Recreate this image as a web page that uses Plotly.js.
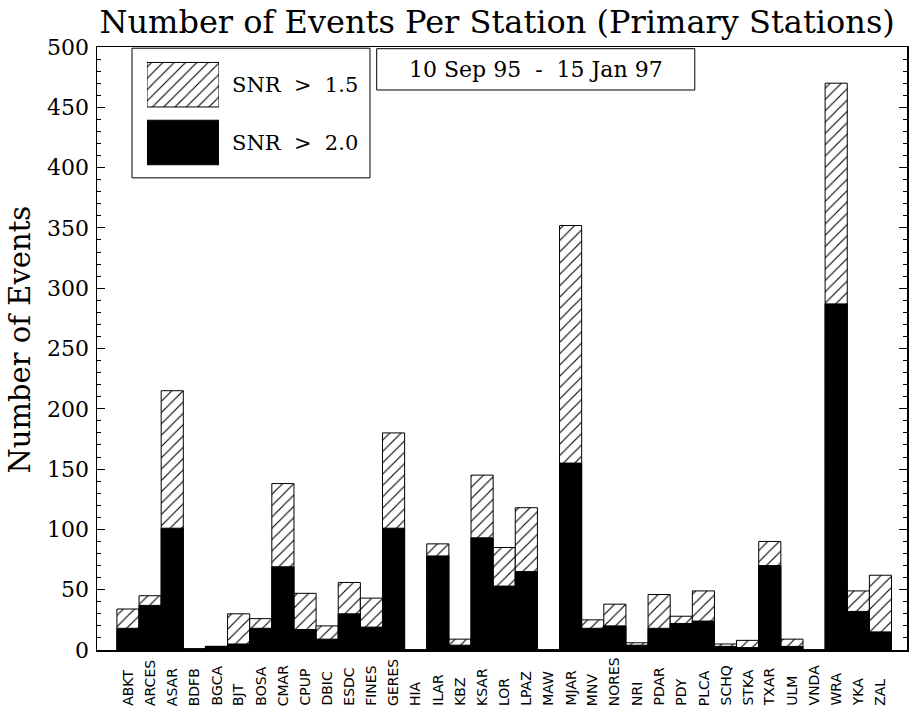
<!DOCTYPE html>
<html><head><meta charset="utf-8">
<script src="https://cdn.plot.ly/plotly-3.0.1.min.js"></script>
<style>html,body{margin:0;padding:0;background:#fff;}</style>
</head><body><div id="chart" style="width:911px;height:712px;"></div>
<script>
const stations = ['ABKT','ARCES','ASAR','BDFB','BGCA','BJT','BOSA','CMAR','CPUP','DBIC','ESDC','FINES','GERES','HIA','ILAR','KBZ','KSAR','LOR','LPAZ','MAW','MJAR','MNV','NORES','NRI','PDAR','PDY','PLCA','SCHQ','STKA','TXAR','ULM','VNDA','WRA','YKA','ZAL'];
const snr15 = [34,45,215,1,3,30,26,138,47,20,56,43,180,0,88,9,145,85,118,0,352,25,38,6,46,28,49,5,8,90,9,0,470,49,62];
const snr20 = [18,37,101,1,3,5,18,69,17,9,30,19,101,0,78,4,93,53,65,0,155,18,20,4,18,22,24,3,2,70,3,0,287,32,15];
const legendLabels = ['SNR \u00A0>\u00A0 2.0','SNR \u00A0>\u00A0 1.5'];
const legendIndex = [0,1];
const dateRange = '10 Sep 95 \u00A0-\u00A0 15 Jan 97';
const chartTitle = 'Number of Events Per Station (Primary Stations)';
const yTitle = 'Number of Events';

const serif = 'DejaVu Serif, serif';
const hatch = {shape:'/', fgcolor:'#000', bgcolor:'#fff', size:8, solidity:0.14, fillmode:'replace'};

const traces = [
  {type:'bar', x:stations, y:snr15, width:1, xaxis:'x', yaxis:'y',
   marker:{color:'#fff', line:{color:'#000', width:1}, pattern:hatch}, hoverinfo:'skip'},
  {type:'bar', x:stations, y:snr20, width:1, xaxis:'x', yaxis:'y',
   marker:{color:'#000', line:{color:'#000', width:1}}, hoverinfo:'skip'},
  {type:'bar', orientation:'h', y:[legendIndex[1]], x:[1], width:0.77, xaxis:'x2', yaxis:'y2',
   marker:{color:'#fff', line:{color:'#000', width:1}, pattern:hatch}, hoverinfo:'skip'},
  {type:'bar', orientation:'h', y:[legendIndex[0]], x:[1], width:0.77, xaxis:'x2', yaxis:'y2',
   marker:{color:'#000', line:{color:'#000', width:1}}, hoverinfo:'skip'}
];

const annotations = stations.map(s => ({
  text:s, x:s, xref:'x', y:-0.096, yref:'paper', textangle:-90,
  xanchor:'center', yanchor:'bottom', showarrow:false,
  font:{family:'DejaVu Sans, sans-serif', size:14, color:'#000'}
}));
annotations.push({text:yTitle, xref:'paper', yref:'paper', x:-0.095, y:0.515, textangle:-90,
  xanchor:'center', yanchor:'middle', showarrow:false, font:{family:serif, size:29, color:'#000'}});
legendLabels.forEach((t,i) => annotations.push({text:t, xref:'paper', yref:'y2', x:0.164, y:legendIndex[i],
  xanchor:'left', yanchor:'middle', showarrow:false, font:{family:serif, size:21, color:'#000'}}));
annotations.push({text:dateRange, xref:'paper', yref:'paper', x:0.542, y:0.963,
  xanchor:'center', yanchor:'middle', showarrow:false, font:{family:serif, size:22, color:'#000'}});

const layout = {
  width:911, height:712,
  margin:{l:97, r:4, t:47, b:62},
  paper_bgcolor:'#fff', plot_bgcolor:'#fff',
  showlegend:false, barmode:'overlay', bargap:0,
  title:{text:chartTitle, font:{family:serif, size:32, color:'#000'},
         xref:'paper', x:0.494, xanchor:'center', yref:'container', y:0.969, yanchor:'middle'},
  xaxis:{type:'category', categoryorder:'array', categoryarray:stations, range:[-1.4,35.2],
         showline:true, mirror:true, linecolor:'#000', linewidth:1.5, ticks:'', showticklabels:false,
         showgrid:false, zeroline:false, fixedrange:true},
  yaxis:{range:[0,500], tick0:0, dtick:50, ticks:'inside', ticklen:8, tickwidth:1, tickcolor:'#000',
         showline:true, mirror:'ticks', linecolor:'#000', linewidth:1.5, showgrid:false, zeroline:false,
         minor:{dtick:10, ticks:'inside', ticklen:4, tickwidth:1, tickcolor:'#000', showgrid:false},
         tickfont:{family:serif, size:22, color:'#000'}, ticklabelstandoff:2},
  xaxis2:{domain:[0.0617,0.1506], range:[0,1], anchor:'y2', visible:false, fixedrange:true},
  yaxis2:{domain:[0.7937,0.9854], range:[-0.5,1.5], anchor:'x2', visible:false, fixedrange:true},
  shapes:[
    {type:'rect', xref:'paper', yref:'paper', x0:0.0432, x1:0.337, y0:0.783, y1:0.998,
     line:{color:'#000', width:1}, fillcolor:'rgba(0,0,0,0)'},
    {type:'rect', xref:'paper', yref:'paper', x0:0.3453, x1:0.738, y0:0.9287, y1:0.9972,
     line:{color:'#000', width:1}, fillcolor:'rgba(0,0,0,0)'}
  ],
  annotations:annotations
};

Plotly.newPlot('chart', traces, layout, {displayModeBar:false, staticPlot:true});
</script></body></html>
